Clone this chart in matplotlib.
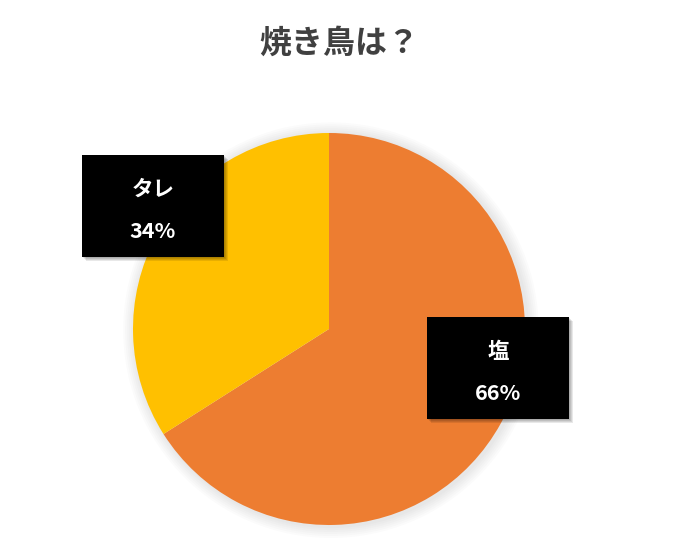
import matplotlib
matplotlib.use("Agg")
import matplotlib.pyplot as plt
from matplotlib.patches import Rectangle, Circle

plt.rcParams['font.family'] = ['Noto Sans CJK JP', 'DejaVu Sans']

# data
labels = ['塩', 'タレ']
shares = [66, 34]
colors = ['#ED7D31', '#FFC000']
title = '焼き鳥は？'

# label box centres in pie data units (radius = 1)
box_pos = [(0.862, -0.20), (-0.898, 0.628)]
box_w, box_h = 0.724, 0.52

fig = plt.figure(figsize=(6.84, 5.41), dpi=100)
ax = fig.add_axes([133 / 684, 16 / 541, 392 / 684, 392 / 541])

# soft shadow behind the pie
for i in range(6):
    ax.add_patch(Circle((0.01, -0.006), 1.0 + 0.01 * (6 - i), color='#8a8a8a',
                        alpha=0.03, lw=0, zorder=0, clip_on=False))

wedges, _ = ax.pie(shares, colors=colors, startangle=90, counterclock=False, radius=1.0,
                   wedgeprops=dict(linewidth=0), frame=False)
for w in wedges:
    w.set_clip_on(False)

for (cx, cy), name, val in zip(box_pos, labels, shares):
    # box shadow
    for k in range(4):
        off = 0.006 + 0.005 * k
        ax.add_patch(Rectangle((cx - box_w / 2 + off, cy - box_h / 2 - off), box_w, box_h,
                               color='#000000', alpha=0.09, lw=0, zorder=3, clip_on=False))
    ax.add_patch(Rectangle((cx - box_w / 2, cy - box_h / 2), box_w, box_h,
                           color='black', lw=0, zorder=4, clip_on=False))
    ax.text(cx, cy + 0.085, name, color='white', fontsize=15.5, fontweight='bold',
            ha='center', va='center', zorder=5, clip_on=False)
    ax.text(cx, cy - 0.13, f'{val}%', color='white', fontsize=15.5, fontweight='bold',
            ha='center', va='center', zorder=5, clip_on=False)

ax.set_xlim(-1, 1)
ax.set_ylim(-1, 1)
ax.set_aspect('equal')
ax.axis('off')

fig.text(339 / 684, 1 - 44 / 541, title, color='#404040', fontsize=23, fontweight='bold',
         ha='center', va='center')

fig.savefig('out.png', dpi=100)
